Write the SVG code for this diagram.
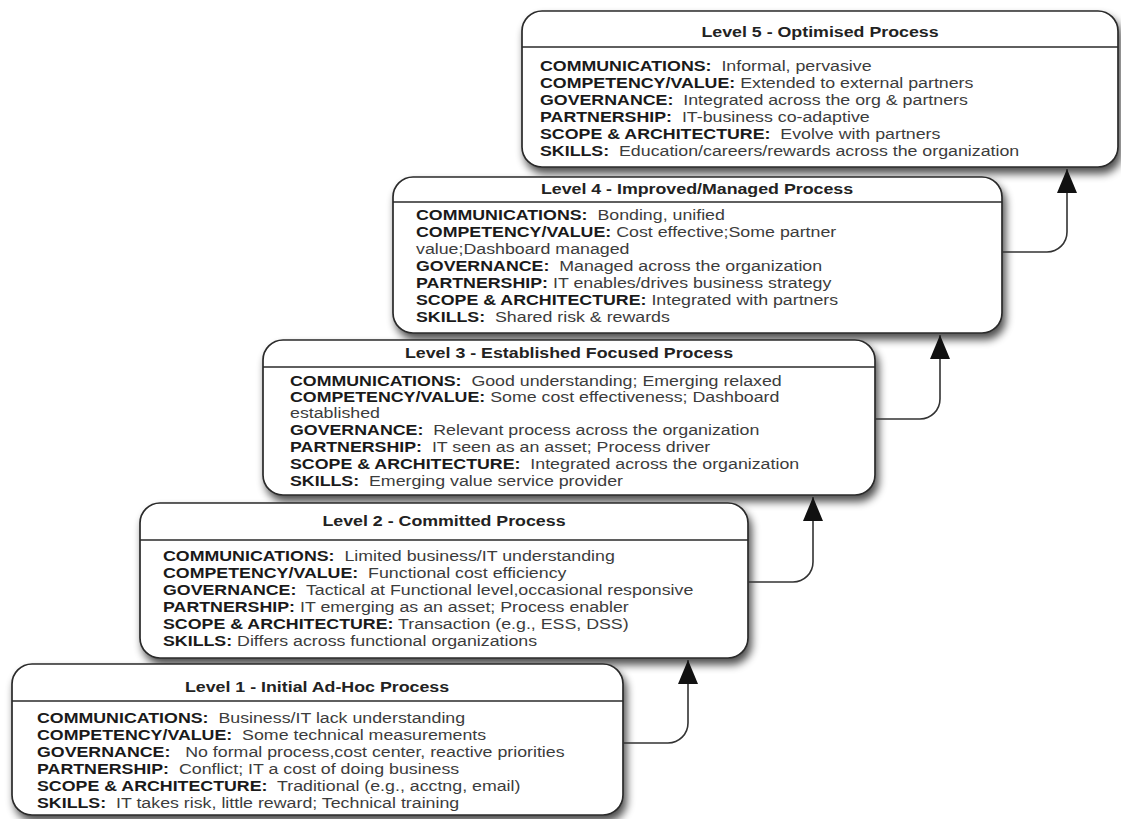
<svg xmlns="http://www.w3.org/2000/svg" width="1121" height="819" viewBox="0 0 1121 819">
<style>
.box{fill:#fff;stroke:#2a2a2a;stroke-width:1.7}
.div{stroke:#2a2a2a;stroke-width:1.5}
.t{font-family:"Liberation Sans",Arial,sans-serif;font-size:14px;fill:#3c3c3c;white-space:pre}
.b{font-weight:bold;fill:#1a1a1a}
.ttl{font-family:"Liberation Sans",Arial,sans-serif;font-size:14px;font-weight:bold;fill:#222;text-anchor:middle}
.con{fill:none;stroke:#333;stroke-width:1.6}
</style>
<defs>
<filter id="sh" x="-5%" y="-10%" width="115%" height="130%">
<feGaussianBlur in="SourceAlpha" stdDeviation="4.5"/>
<feOffset dx="3" dy="6" result="o"/>
<feComponentTransfer><feFuncA type="linear" slope="0.7"/></feComponentTransfer>
<feMerge><feMergeNode/><feMergeNode in="SourceGraphic"/></feMerge>
</filter>
<marker id="ar" viewBox="0 0 24 20" refX="24" refY="10" markerWidth="24" markerHeight="20" markerUnits="userSpaceOnUse" orient="auto">
<path d="M0,0 L24,10 L0,20 z" fill="#111"/>
</marker>
</defs>

<g id="level5">
<rect class="box" x="522" y="11" width="596" height="156" rx="20" filter="url(#sh)"/>
<line class="div" x1="522" y1="47" x2="1118" y2="47"/>
<g transform="translate(820 0) scale(1.27 1)"><text class="ttl" x="0" y="37">Level 5 - Optimised Process</text></g>
<g transform="translate(540 0) scale(1.27 1)">
<text class="t" xml:space="preserve" x="0" y="71"><tspan class="b">COMMUNICATIONS:</tspan>  Informal, pervasive</text>
<text class="t" xml:space="preserve" x="0" y="88"><tspan class="b">COMPETENCY/VALUE:</tspan> Extended to external partners</text>
<text class="t" xml:space="preserve" x="0" y="105"><tspan class="b">GOVERNANCE:</tspan>  Integrated across the org &amp; partners</text>
<text class="t" xml:space="preserve" x="0" y="122"><tspan class="b">PARTNERSHIP:</tspan>  IT-business co-adaptive</text>
<text class="t" xml:space="preserve" x="0" y="139"><tspan class="b">SCOPE &amp; ARCHITECTURE:</tspan>  Evolve with partners</text>
<text class="t" xml:space="preserve" x="0" y="156"><tspan class="b">SKILLS:</tspan>  Education/careers/rewards across the organization</text>
</g>
</g>

<g id="level4">
<rect class="box" x="393" y="177" width="609" height="156" rx="20" filter="url(#sh)"/>
<line class="div" x1="393" y1="202" x2="1002" y2="202"/>
<g transform="translate(697 0) scale(1.27 1)"><text class="ttl" x="0" y="194">Level 4 - Improved/Managed Process</text></g>
<g transform="translate(416 0) scale(1.27 1)">
<text class="t" xml:space="preserve" x="0" y="220"><tspan class="b">COMMUNICATIONS:</tspan>  Bonding, unified</text>
<text class="t" xml:space="preserve" x="0" y="237"><tspan class="b">COMPETENCY/VALUE:</tspan> Cost effective;Some partner</text>
<text class="t" xml:space="preserve" x="0" y="254">value;Dashboard managed</text>
<text class="t" xml:space="preserve" x="0" y="271"><tspan class="b">GOVERNANCE:</tspan>  Managed across the organization</text>
<text class="t" xml:space="preserve" x="0" y="288"><tspan class="b">PARTNERSHIP:</tspan> IT enables/drives business strategy</text>
<text class="t" xml:space="preserve" x="0" y="305"><tspan class="b">SCOPE &amp; ARCHITECTURE:</tspan> Integrated with partners</text>
<text class="t" xml:space="preserve" x="0" y="322"><tspan class="b">SKILLS:</tspan>  Shared risk &amp; rewards</text>
</g>
</g>

<g id="level3">
<rect class="box" x="263" y="340" width="612" height="155" rx="20" filter="url(#sh)"/>
<line class="div" x1="263" y1="367" x2="875" y2="367"/>
<g transform="translate(569 0) scale(1.27 1)"><text class="ttl" x="0" y="358">Level 3 - Established Focused Process</text></g>
<g transform="translate(290 0) scale(1.27 1)">
<text class="t" xml:space="preserve" x="0" y="386"><tspan class="b">COMMUNICATIONS:</tspan>  Good understanding; Emerging relaxed</text>
<text class="t" xml:space="preserve" x="0" y="402"><tspan class="b">COMPETENCY/VALUE:</tspan> Some cost effectiveness; Dashboard</text>
<text class="t" xml:space="preserve" x="0" y="418">established</text>
<text class="t" xml:space="preserve" x="0" y="435"><tspan class="b">GOVERNANCE:</tspan>  Relevant process across the organization</text>
<text class="t" xml:space="preserve" x="0" y="452"><tspan class="b">PARTNERSHIP:</tspan>  IT seen as an asset; Process driver</text>
<text class="t" xml:space="preserve" x="0" y="469"><tspan class="b">SCOPE &amp; ARCHITECTURE:</tspan>  Integrated across the organization</text>
<text class="t" xml:space="preserve" x="0" y="486"><tspan class="b">SKILLS:</tspan>  Emerging value service provider</text>
</g>
</g>

<g id="level2">
<rect class="box" x="140" y="503" width="608" height="155" rx="20" filter="url(#sh)"/>
<line class="div" x1="140" y1="540" x2="748" y2="540"/>
<g transform="translate(444 0) scale(1.27 1)"><text class="ttl" x="0" y="526">Level 2 - Committed Process</text></g>
<g transform="translate(163 0) scale(1.27 1)">
<text class="t" xml:space="preserve" x="0" y="561"><tspan class="b">COMMUNICATIONS:</tspan>  Limited business/IT understanding</text>
<text class="t" xml:space="preserve" x="0" y="578"><tspan class="b">COMPETENCY/VALUE:</tspan>  Functional cost efficiency</text>
<text class="t" xml:space="preserve" x="0" y="595"><tspan class="b">GOVERNANCE:</tspan>  Tactical at Functional level,occasional responsive</text>
<text class="t" xml:space="preserve" x="0" y="612"><tspan class="b">PARTNERSHIP:</tspan> IT emerging as an asset; Process enabler</text>
<text class="t" xml:space="preserve" x="0" y="629"><tspan class="b">SCOPE &amp; ARCHITECTURE:</tspan> Transaction (e.g., ESS, DSS)</text>
<text class="t" xml:space="preserve" x="0" y="646"><tspan class="b">SKILLS:</tspan> Differs across functional organizations</text>
</g>
</g>

<g id="level1">
<rect class="box" x="12" y="664" width="611" height="151" rx="20" filter="url(#sh)"/>
<line class="div" x1="12" y1="701" x2="623" y2="701"/>
<g transform="translate(317 0) scale(1.27 1)"><text class="ttl" x="0" y="692">Level 1 - Initial Ad-Hoc Process</text></g>
<g transform="translate(37 0) scale(1.27 1)">
<text class="t" xml:space="preserve" x="0" y="723"><tspan class="b">COMMUNICATIONS:</tspan>  Business/IT lack understanding</text>
<text class="t" xml:space="preserve" x="0" y="740"><tspan class="b">COMPETENCY/VALUE:</tspan>  Some technical measurements</text>
<text class="t" xml:space="preserve" x="0" y="757"><tspan class="b">GOVERNANCE:</tspan>   No formal process,cost center, reactive priorities</text>
<text class="t" xml:space="preserve" x="0" y="774"><tspan class="b">PARTNERSHIP:</tspan>  Conflict; IT a cost of doing business</text>
<text class="t" xml:space="preserve" x="0" y="791"><tspan class="b">SCOPE &amp; ARCHITECTURE:</tspan>  Traditional (e.g., acctng, email)</text>
<text class="t" xml:space="preserve" x="0" y="808"><tspan class="b">SKILLS:</tspan>  IT takes risk, little reward; Technical training</text>
</g>
</g>

<g id="connectors">
<path class="con" d="M623 743 H668 A20 20 0 0 0 688 723 V660" marker-end="url(#ar)"/>
<path class="con" d="M748 582 H793 A20 20 0 0 0 813 562 V497" marker-end="url(#ar)"/>
<path class="con" d="M875 419 H920 A20 20 0 0 0 940 399 V335" marker-end="url(#ar)"/>
<path class="con" d="M1002 252 H1047 A20 20 0 0 0 1067 232 V169" marker-end="url(#ar)"/>
</g>
</svg>
